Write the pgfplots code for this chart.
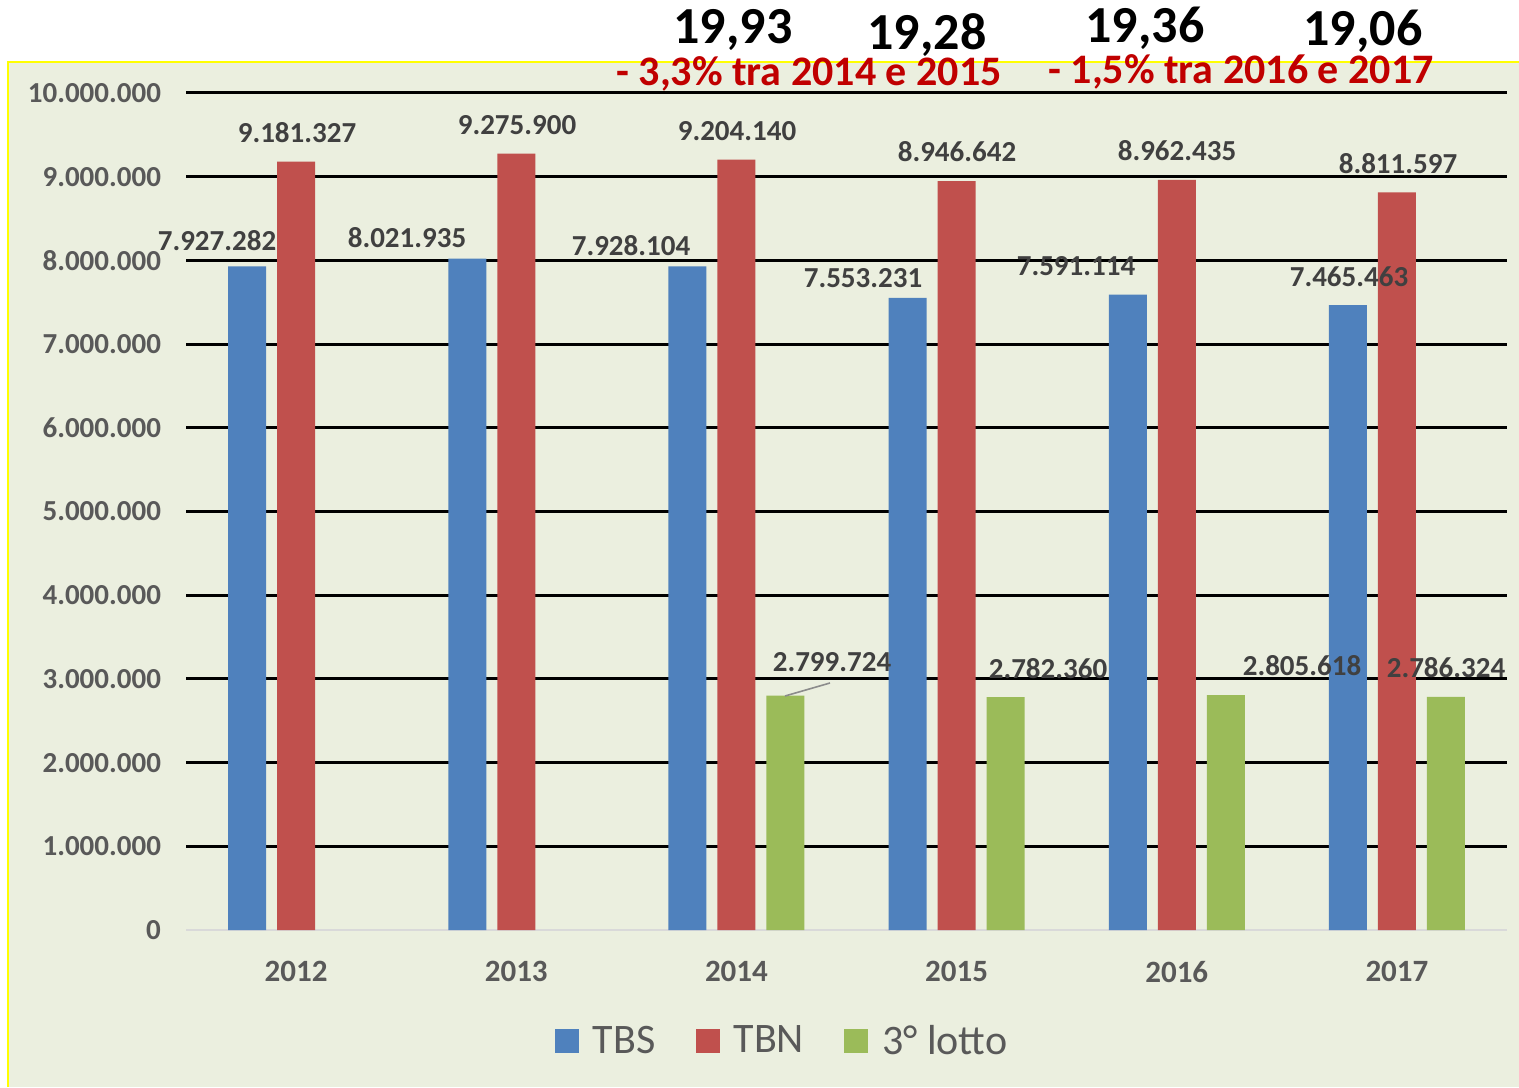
\documentclass[border=0pt]{standalone}
\usepackage{fontspec}
\setmainfont{Carlito}
\usepackage{pgfplots}
\pgfplotsset{compat=1.18}
\definecolor{tbs}{HTML}{4F81BD}
\definecolor{tbn}{HTML}{C0504D}
\definecolor{lotto}{HTML}{9BBB59}
\definecolor{bgc}{HTML}{EBEFDF}
\definecolor{tickc}{HTML}{595959}
\definecolor{labc}{HTML}{404040}
\definecolor{redt}{HTML}{C00000}
\definecolor{yel}{HTML}{FFFF00}
\pgfplotsset{sqlegend/.style={legend image code/.code={\fill[##1,draw=none] (0pt,-6pt) rectangle (12pt,6pt);}}}
\begin{document}
\begin{tikzpicture}
\useasboundingbox (0,0) rectangle (759.5pt,543.5pt);
\fill[white] (0,0) rectangle (759.5pt,543.5pt);
\fill[bgc] (4pt,0) rectangle (759.5pt,512.5pt);
\draw[yel, line width=1.2pt] (4pt,0) -- (4pt,512.5pt) -- (759.5pt,512.5pt);
\begin{axis}[
  at={(93pt,78.5pt)}, anchor=south west,
  scale only axis, width=660.5pt, height=418.5pt,
  xmin=-0.5, xmax=5.5, ymin=0, ymax=10000000,
  ybar, bar width=19pt,
  axis line style={draw=none},
  major tick length=0pt,
  xtick={0,1,2,3,4,5},
  xticklabels={2012,2013,2014,2015,2016,2017},
  ytick={1000000,2000000,3000000,4000000,5000000,6000000,7000000,8000000,9000000,10000000},
  yticklabels={1.000.000,2.000.000,3.000.000,4.000.000,5.000.000,6.000.000,7.000.000,8.000.000,9.000.000,10.000.000},
  extra y ticks={0}, extra y tick labels={0},
  extra y tick style={grid style={color=black!15, line width=1pt}},
  ymajorgrids, grid style={black, line width=1.5pt},
  scaled y ticks=false,
  /pgf/number format/assume math mode=true,
  yticklabel style={font=\bfseries\fontsize{14.5}{16}\selectfont, text=tickc, anchor=east, xshift=-9pt},
  xticklabel style={font=\bfseries\fontsize{15.5}{17}\selectfont, text=tickc, yshift=-12pt},
  legend style={at={(0.452,-0.1326)}, anchor=center, draw=none, fill=none,
    legend columns=-1, font=\fontsize{21}{24}\selectfont, text=tickc,
    /tikz/every odd column/.append style={column sep=5pt},
    /tikz/every even column/.append style={column sep=18pt}},
]
\addplot[fill=tbs, draw=none, bar shift=-24.5pt, sqlegend] coordinates {
  (0,7927282) (1,8021935) (2,7928104) (3,7553231) (4,7591114) (5,7465463)};
\addlegendentry{TBS}
\addplot[fill=tbn, draw=none, bar shift=0pt, sqlegend] coordinates {
  (0,9181327) (1,9275900) (2,9204140) (3,8946642) (4,8962435) (5,8811597)};
\addlegendentry{TBN}
\addplot[fill=lotto, draw=none, bar shift=24.5pt, sqlegend] coordinates {
  (2,2799724) (3,2782360) (4,2805618) (5,2786324)};
\addlegendentry{3° lotto}
\end{axis}
\begin{scope}[x=0.5pt, y=-0.5pt, shift={(0pt,543.5pt)},
  lab/.style={font=\bfseries\fontsize{14.5}{16}\selectfont, text=labc, inner sep=0pt}]
\node[lab] at (217,241) {7.927.282};
\node[lab] at (297,133) {9.181.327};
\node[lab] at (407,238) {8.021.935};
\node[lab] at (517,125) {9.275.900};
\node[lab] at (631,246) {7.928.104};
\node[lab] at (737,131) {9.204.140};
\node[lab] at (863,278) {7.553.231};
\node[lab] at (957,152) {8.946.642};
\node[lab] at (1076,266) {7.591.114};
\node[lab] at (1177,151) {8.962.435};
\node[lab] at (1349,277) {7.465.463};
\node[lab] at (1398,164) {8.811.597};
\node[lab] at (832,662) {2.799.724};
\node[lab] at (1048,669) {2.782.360};
\node[lab] at (1302,666) {2.805.618};
\node[lab] at (1446,668) {2.786.324};
\draw[black!45, line width=0.8pt] (785,696) -- (830,683);
\node[font=\bfseries\fontsize{26}{30}\selectfont, inner sep=0pt] at (733,30) {19,93};
\node[font=\bfseries\fontsize{26}{30}\selectfont, inner sep=0pt] at (927,35) {19,28};
\node[font=\bfseries\fontsize{26}{30}\selectfont, inner sep=0pt] at (1145,28) {19,36};
\node[font=\bfseries\fontsize{26}{30}\selectfont, inner sep=0pt] at (1363,31) {19,06};
\node[font=\bfseries\fontsize{21}{24}\selectfont, text=redt, inner sep=0pt] at (809,74) {- 3,3\% tra 2014 e 2015};
\node[font=\bfseries\fontsize{21}{24}\selectfont, text=redt, inner sep=0pt] at (1241,72) {- 1,5\% tra 2016 e 2017};
\end{scope}
\end{tikzpicture}
\end{document}
